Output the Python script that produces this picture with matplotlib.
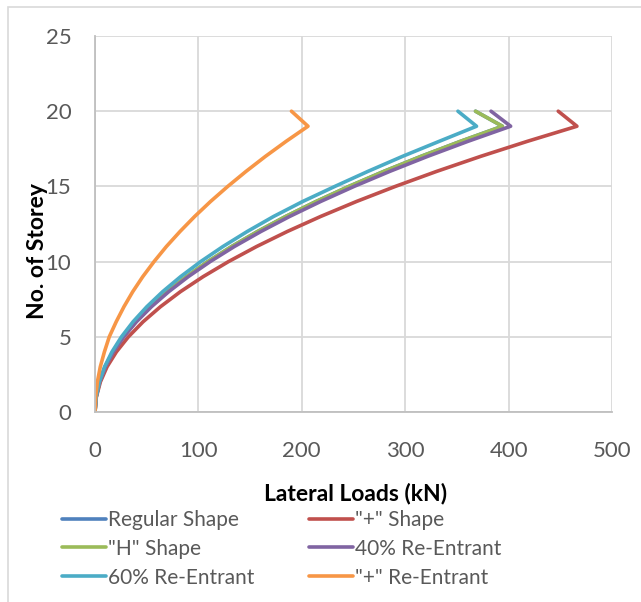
import matplotlib
matplotlib.use('Agg')
import matplotlib.pyplot as plt
from matplotlib.patches import Rectangle

plt.rcParams['font.family'] = ['Lato', 'DejaVu Sans']

storey = list(range(21))

regular = [0, 1.1, 4.4, 9.8, 17.5, 27.3, 39.3, 53.5, 69.8, 88.4, 109.1, 132.1,
           157.2, 184.4, 213.9, 245.6, 279.4, 315.4, 353.6, 394.0, 368.0]
plus_shape = [0, 1.3, 5.2, 11.6, 20.7, 32.3, 46.5, 63.3, 82.6, 104.6, 129.1, 156.2,
              185.9, 218.2, 253.0, 290.5, 330.5, 373.1, 418.3, 466.1, 448.0]
h_shape = [0, 1.1, 4.4, 9.8, 17.5, 27.3, 39.3, 53.5, 69.8, 88.4, 109.1, 132.1,
           157.2, 184.4, 213.9, 245.6, 279.4, 315.4, 353.6, 394.0, 368.0]
re40 = [0, 1.1, 4.5, 10.0, 17.8, 27.8, 40.1, 54.6, 71.3, 90.2, 111.4, 134.7,
        160.4, 188.2, 218.3, 250.6, 285.1, 321.8, 360.8, 402.0, 383.0]
re60 = [0, 1.0, 4.1, 9.2, 16.4, 25.6, 36.8, 50.1, 65.4, 82.8, 102.2, 123.7,
        147.2, 172.7, 201.0, 232.0, 264.0, 297.5, 333.0, 369.0, 351.0]
plus_re = [0, 0.6, 2.3, 5.1, 9.1, 13.8, 20.5, 28.0, 36.5, 46.2, 57.1, 69.0,
           82.2, 96.4, 111.8, 128.4, 146.1, 164.9, 184.9, 206.0, 190.0]

series = [
    ('Regular Shape', regular, '#4f81bd'),
    ('"+" Shape', plus_shape, '#c0504d'),
    ('"H" Shape', h_shape, '#9bbb59'),
    ('40% Re-Entrant', re40, '#8064a2'),
    ('60% Re-Entrant', re60, '#4bacc6'),
    ('"+" Re-Entrant', plus_re, '#f79646'),
]

W, H = 641, 602
fig = plt.figure(figsize=(W / 100, H / 100), dpi=100)
fig.patches.append(Rectangle((8 / W, -0.1), 1.2, 1.1 - 6.5 / H, transform=fig.transFigure,
                             fill=False, edgecolor='#d9d9d9', linewidth=1.2))

ax = fig.add_axes([95 / W, 1 - 412 / H, 517 / W, 376 / H])
for name, vals, col in series:
    ax.plot(vals, storey, color=col, linewidth=2.6, label=name,
            solid_capstyle='round', solid_joinstyle='round')

ax.set_xlim(0, 500)
ax.set_ylim(0, 25)
ax.set_xticks([0, 100, 200, 300, 400, 500])
ax.set_yticks([0, 5, 10, 15, 20, 25])
ax.grid(True, color='#d9d9d9', linewidth=1.3)
ax.set_axisbelow(True)
for s in ['top', 'right']:
    ax.spines[s].set_visible(False)
for s in ['left', 'bottom']:
    ax.spines[s].set_color('#bfbfbf')
    ax.spines[s].set_linewidth(1.3)
ax.tick_params(length=0, labelsize=16, labelcolor='#595959')
ax.tick_params(axis='x', pad=21)
ax.tick_params(axis='y', pad=17)

fig.text(356 / W, 1 - 493 / H, 'Lateral Loads (kN)', ha='center', va='center',
         fontsize=16.5, fontweight='bold', color='black')
fig.text(37 / W, 1 - 251 / H, 'No. of Storey', ha='center', va='center',
         rotation=90, fontsize=16.5, fontweight='bold', color='black')

# row-wise legend order like the original
handles, labels = ax.get_legend_handles_labels()
order = [0, 2, 4, 1, 3, 5]
fig.legend([handles[i] for i in order], [labels[i] for i in order], ncol=2,
           loc='upper left', bbox_to_anchor=(62 / W, 1 - 510 / H),
           frameon=False, fontsize=15, labelcolor='#595959', handlelength=2.1,
           handletextpad=0.12, columnspacing=2.6, labelspacing=0.42, borderaxespad=0,
           borderpad=0)

fig.savefig('out.png', dpi=100)
